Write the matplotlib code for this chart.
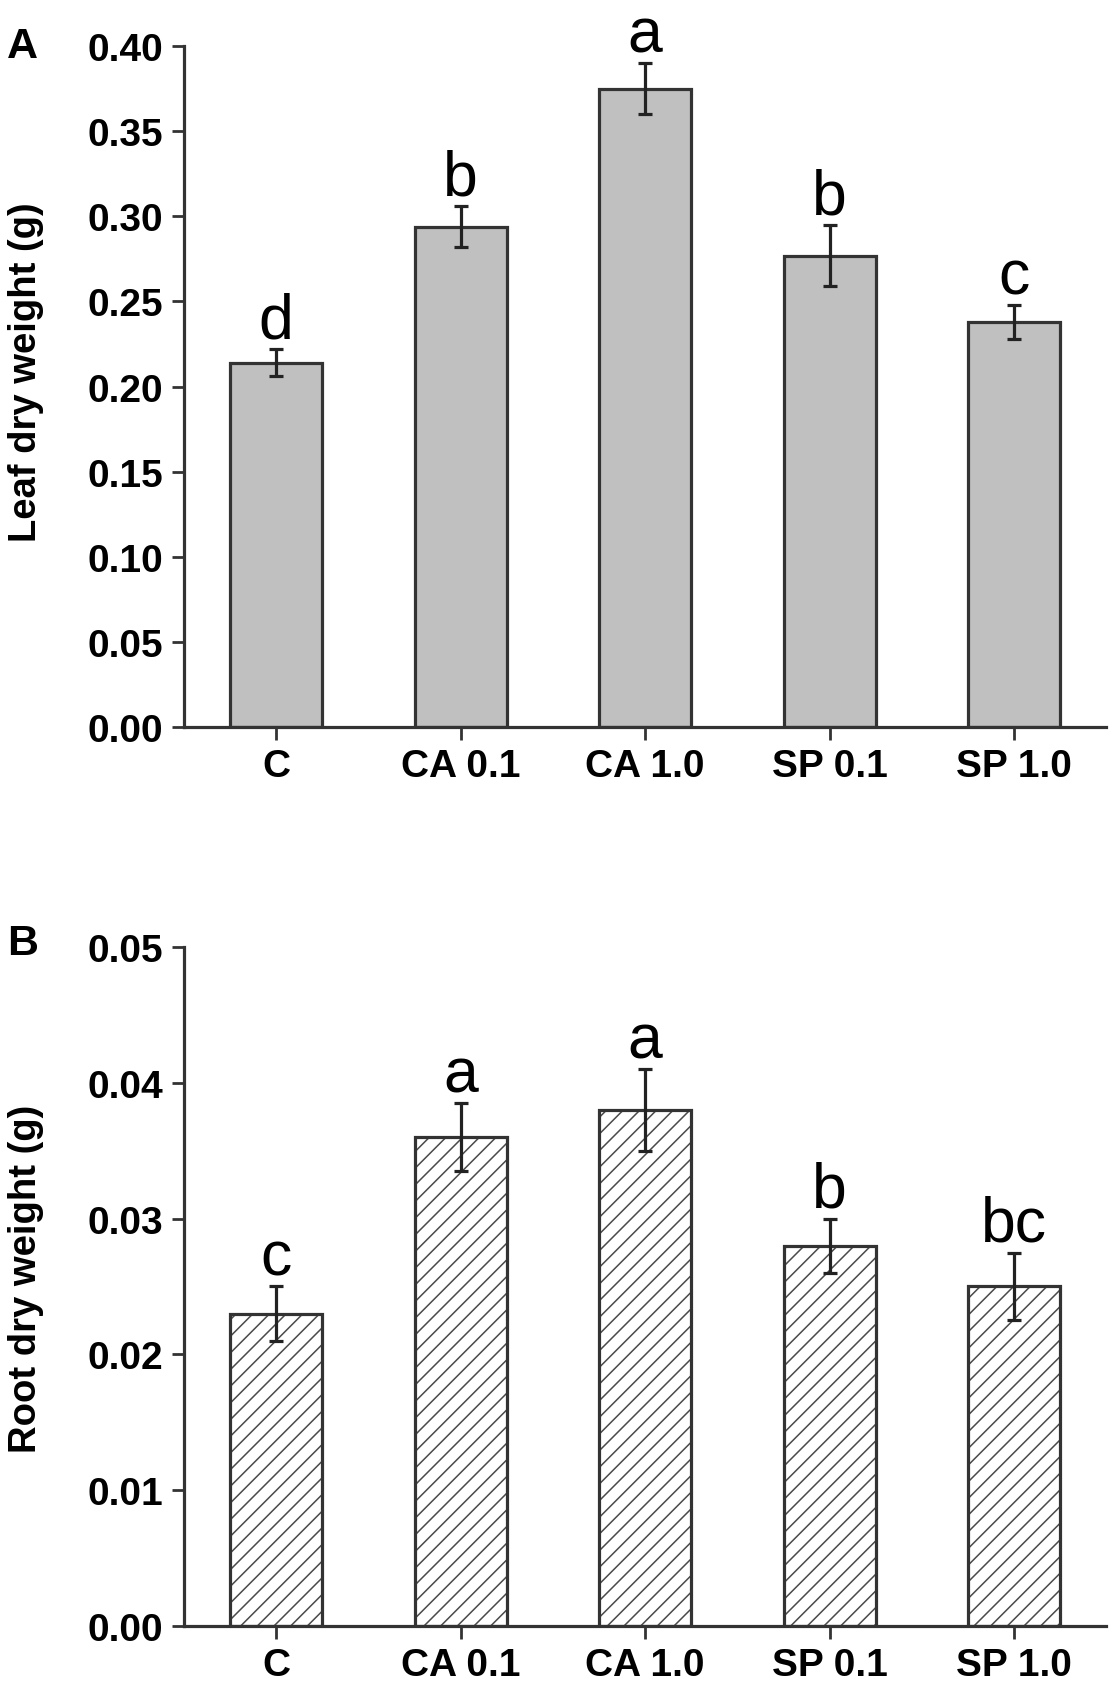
import matplotlib
matplotlib.use('Agg')
import matplotlib.pyplot as plt
import numpy as np

# treatments and values
groups = ['C', 'CA 0.1', 'CA 1.0', 'SP 0.1', 'SP 1.0']

leaf_mean = [0.214, 0.294, 0.375, 0.277, 0.238]
leaf_err = [0.008, 0.012, 0.015, 0.018, 0.010]
leaf_letters = ['d', 'b', 'a', 'b', 'c']

root_mean = [0.023, 0.036, 0.038, 0.028, 0.025]
root_err = [0.002, 0.0025, 0.003, 0.002, 0.0025]
root_letters = ['c', 'a', 'a', 'b', 'bc']

leaf_ticks = [0.00, 0.05, 0.10, 0.15, 0.20, 0.25, 0.30, 0.35, 0.40]
root_ticks = [0.00, 0.01, 0.02, 0.03, 0.04, 0.05]

plt.rcParams['font.family'] = ['Liberation Sans', 'DejaVu Sans']
plt.rcParams['hatch.linewidth'] = 1.1

EDGE = '#333333'


def style_axis(ax, ticks, fmt, ylabel, label_y):
    ax.spines['top'].set_visible(False)
    ax.spines['right'].set_visible(False)
    for s in ('left', 'bottom'):
        ax.spines[s].set_linewidth(2.3)
        ax.spines[s].set_color(EDGE)
    ax.set_xlim(0.5, 5.5)
    ax.set_ylim(ticks[0], ticks[-1])
    ax.set_yticks(ticks)
    ax.set_yticklabels([fmt.format(t) for t in ticks])
    ax.set_xticks(np.arange(1, 6))
    ax.set_xticklabels(groups)
    ax.tick_params(axis='both', direction='out', length=9, width=2, color=EDGE,
                   labelsize=28, pad=6)
    for lab in ax.get_xticklabels() + ax.get_yticklabels():
        lab.set_fontweight('bold')
    ax.set_ylabel(ylabel, fontsize=27.5, fontweight='bold')
    ax.yaxis.set_label_coords(-0.152, label_y)


def add_letters(ax, means, errs, letters):
    for i, (m, e, t) in enumerate(zip(means, errs, letters)):
        ax.annotate(t, (i + 1, m + e), xytext=(0, 8.5), textcoords='offset points',
                    ha='center', va='baseline', fontsize=45)


def main():
    fig = plt.figure(figsize=(11.18, 16.83), dpi=100)
    ax1 = fig.add_axes([0.1646, 0.5674, 0.825, 0.4046])
    ax2 = fig.add_axes([0.1646, 0.0333, 0.825, 0.4034])
    x = np.arange(1, 6)

    ax1.bar(x, leaf_mean, width=0.5, color='#c0c0c0', edgecolor=EDGE, linewidth=2.3,
            zorder=2)
    ax1.errorbar(x, leaf_mean, yerr=leaf_err, fmt='none', ecolor='#222222',
                 elinewidth=2.3, capsize=5, capthick=2.3, zorder=3)
    style_axis(ax1, leaf_ticks, '{:.2f}', 'Leaf dry weight (g)', 0.523)
    add_letters(ax1, leaf_mean, leaf_err, leaf_letters)

    ax2.bar(x, root_mean, width=0.5, color='white', edgecolor='#4a4a4a', linewidth=0,
            hatch='//', zorder=2)
    ax2.bar(x, root_mean, width=0.5, fill=False, edgecolor=EDGE, linewidth=2.3,
            zorder=2)
    ax2.errorbar(x, root_mean, yerr=root_err, fmt='none', ecolor='#222222',
                 elinewidth=2.3, capsize=5, capthick=2.3, zorder=3)
    style_axis(ax2, root_ticks, '{:.2f}', 'Root dry weight (g)', 0.512)
    add_letters(ax2, root_mean, root_err, root_letters)

    fig.text(0.006, 0.972, 'A', fontsize=31, fontweight='bold', va='center')
    fig.text(0.006, 0.439, 'B', fontsize=31, fontweight='bold', va='center')

    fig.savefig('out.png', dpi=100)


if __name__ == '__main__':
    main()
